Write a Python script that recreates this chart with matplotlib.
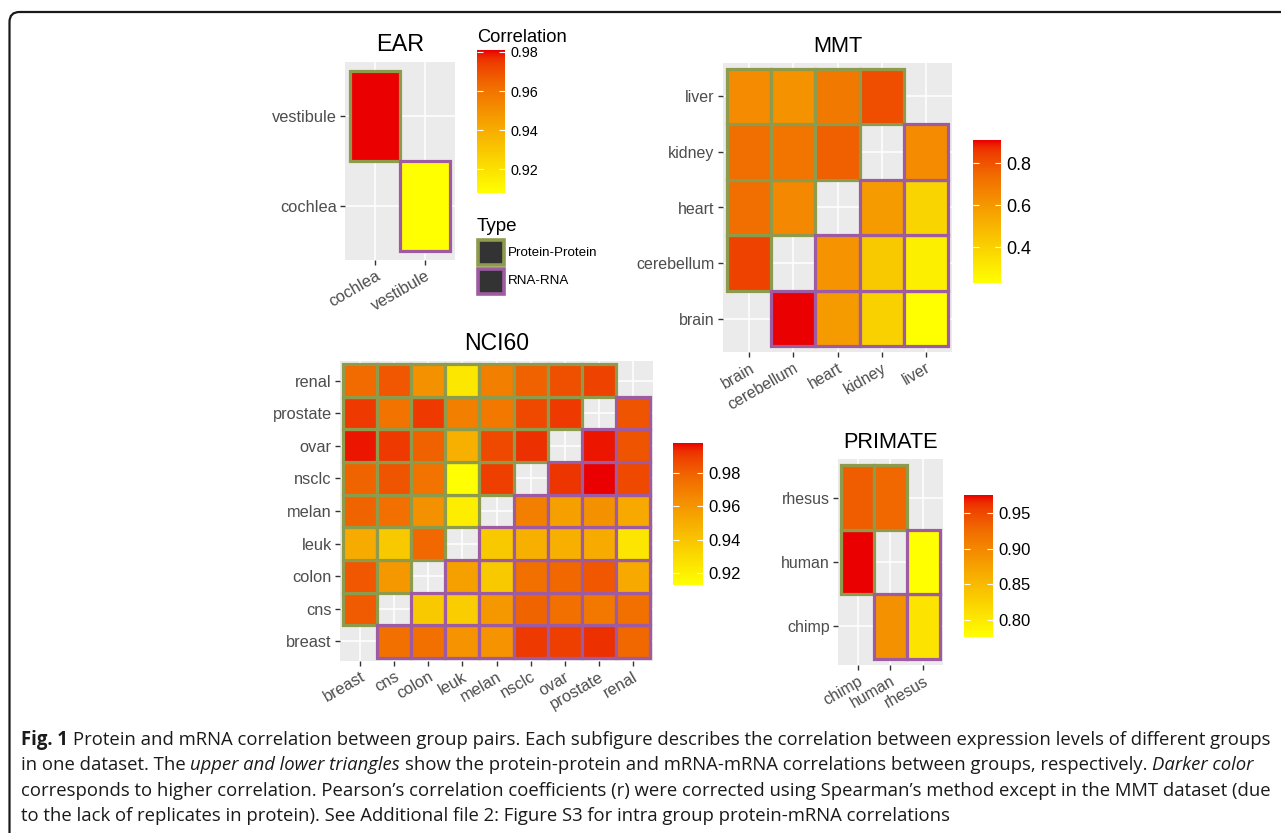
import numpy as np
import matplotlib
matplotlib.use("Agg")
import matplotlib.pyplot as plt
from matplotlib.colors import LinearSegmentedColormap, Normalize
from matplotlib.patches import Rectangle, FancyBboxPatch
from matplotlib.cm import ScalarMappable
from matplotlib.transforms import IdentityTransform

W, H = 1281, 833

# group names, in axis order (left to right / bottom to top)
ear_groups = ["cochlea", "vestibule"]
mmt_groups = ["brain", "cerebellum", "heart", "kidney", "liver"]
nci_groups = ["breast", "cns", "colon", "leuk", "melan", "nsclc", "ovar", "prostate", "renal"]
primate_groups = ["chimp", "human", "rhesus"]

# correlation matrices: rows listed top to bottom (last group first),
# columns in group order; cells above the diagonal are protein-protein,
# cells below are RNA-RNA
ear_corr = [
    [0.981, np.nan],
    [np.nan, 0.908],
]
mmt_corr = [
    [0.64, 0.62, 0.70, 0.81, np.nan],
    [0.73, 0.71, 0.77, np.nan, 0.64],
    [0.73, 0.65, np.nan, 0.59, 0.39],
    [0.84, np.nan, 0.61, 0.43, 0.29],
    [np.nan, 0.91, 0.59, 0.40, 0.23],
]
nci_corr = [
    [0.977, 0.983, 0.962, 0.924, 0.969, 0.980, 0.985, 0.989, np.nan],
    [0.991, 0.974, 0.991, 0.969, 0.972, 0.987, 0.991, np.nan, 0.984],
    [0.996, 0.991, 0.980, 0.949, 0.987, 0.993, np.nan, 0.996, 0.984],
    [0.979, 0.984, 0.974, 0.913, 0.990, np.nan, 0.992, 0.998, 0.987],
    [0.979, 0.975, 0.962, 0.921, np.nan, 0.969, 0.956, 0.962, 0.952],
    [0.951, 0.938, 0.978, np.nan, 0.938, 0.949, 0.949, 0.951, 0.925],
    [0.983, 0.959, np.nan, 0.956, 0.938, 0.975, 0.978, 0.983, 0.952],
    [0.982, np.nan, 0.938, 0.936, 0.959, 0.979, 0.975, 0.972, 0.975],
    [np.nan, 0.975, 0.975, 0.961, 0.961, 0.991, 0.990, 0.993, 0.978],
]
primate_corr = [
    [0.936, 0.928, np.nan],
    [0.975, np.nan, 0.776],
    [np.nan, 0.891, 0.805],
]

ear_ticks = [0.92, 0.94, 0.96, 0.98]
mmt_ticks = [0.4, 0.6, 0.8]
nci_ticks = [0.92, 0.94, 0.96, 0.98]
primate_ticks = [0.80, 0.85, 0.90, 0.95]

type_labels = ["Protein-Protein", "RNA-RNA"]

GREEN = "#8E9B4C"
PURPLE = "#9E5BA1"

# yellow -> red ramp (Lab-style spacing of the green channel)
cmap = LinearSegmentedColormap.from_list("yr", [
    (0.00, (255 / 255, 255 / 255, 0)),
    (0.25, (250 / 255, 209 / 255, 0)),
    (0.50, (246 / 255, 161 / 255, 0)),
    (0.75, (241 / 255, 108 / 255, 0)),
    (0.90, (238 / 255, 65 / 255, 0)),
    (0.95, (237 / 255, 44 / 255, 0)),
    (1.00, (234 / 255, 0, 0)),
])

plt.rcParams["font.family"] = ["Liberation Sans", "DejaVu Sans"]

fig = plt.figure(figsize=(W / 100, H / 100), dpi=100)


def px_box(x0, y0, x1, y1):
    return [x0 / W, 1 - y1 / H, (x1 - x0) / W, (y1 - y0) / H]


def heatmap(box, groups, rows, title, title_size, label_size):
    ax = fig.add_axes(px_box(*box))
    mat = np.array(rows, dtype=float)[::-1]
    n = len(groups)
    norm = Normalize(np.nanmin(mat), np.nanmax(mat))
    ax.set_facecolor("#EBEBEB")
    ax.set_xlim(0.4, n + 0.6)
    ax.set_ylim(0.4, n + 0.6)
    pos = np.arange(1, n + 1)
    ax.set_xticks(pos)
    ax.set_xticklabels(groups, rotation=30, ha="right", rotation_mode="anchor")
    ax.set_yticks(pos)
    ax.set_yticklabels(groups)
    ax.grid(True, color="white", lw=1.1)
    ax.set_axisbelow(True)
    for s in ax.spines.values():
        s.set_visible(False)
    ax.tick_params(length=3.5, width=1.0, color="#333333",
                   labelcolor="#4D4D4D", labelsize=label_size, pad=2.5)

    for protein in (True, False):
        for i in range(n):
            for j in range(n):
                v = mat[i, j]
                if np.isnan(v) or (i > j) != protein:
                    continue
                ax.add_patch(Rectangle((pos[j] - 0.5, pos[i] - 0.5), 1, 1,
                                       facecolor=cmap(norm(v)),
                                       edgecolor=GREEN if protein else PURPLE,
                                       lw=2.3, zorder=3))
    ax.set_title(title, fontsize=title_size, pad=8, color="black")
    return norm


def colorbar(box, norm, ticks, decimals, label_size):
    cax = fig.add_axes(px_box(*box))
    cb = fig.colorbar(ScalarMappable(norm=norm, cmap=cmap), cax=cax, ticks=ticks)
    cb.outline.set_visible(False)
    cax.yaxis.set_ticks_position("both")
    cax.tick_params(direction="in", length=4, width=0.8, color="white",
                    labelsize=label_size, labelcolor="black", pad=4,
                    labelleft=False, labelright=True)
    cax.set_yticklabels([f"{t:.{decimals}f}" for t in ticks])
    return cax


ear_norm = heatmap((345, 62, 455, 260), ear_groups, ear_corr, "EAR", 16.8, 11.8)
mmt_norm = heatmap((723, 63, 952, 352), mmt_groups, mmt_corr, "MMT", 15.7, 11.5)
nci_norm = heatmap((340, 361, 653, 661), nci_groups, nci_corr, "NCI60", 16.6, 11.8)
pri_norm = heatmap((838, 459, 943, 665), primate_groups, primate_corr, "PRIMATE", 15.7, 11.5)

colorbar((477, 50, 505, 193), ear_norm, ear_ticks, 2, 10.4)
colorbar((973, 140, 1001, 283), mmt_norm, mmt_ticks, 1, 13)
colorbar((673, 443, 703, 585), nci_norm, nci_ticks, 2, 12)
colorbar((964, 495, 993, 637), pri_norm, primate_ticks, 2, 12)

fig.text(477 / W, 1 - 42 / H, "Correlation", fontsize=13.2, ha="left", va="baseline")

# "Type" legend: two keys with the tile outline colours
fig.text(477 / W, 1 - 231 / H, "Type", fontsize=13.5, ha="left", va="baseline")
leg_ax = fig.add_axes(px_box(470, 232, 620, 300))
leg_ax.set_xlim(470, 620)
leg_ax.set_ylim(300, 232)
leg_ax.axis("off")
for k, (lab, col) in enumerate(zip(type_labels, [GREEN, PURPLE])):
    top = 239.5 + 29 * k
    leg_ax.add_patch(Rectangle((478.5, top), 25.5, 25.5, facecolor="#333333",
                               edgecolor=col, lw=2.6))
    leg_ax.text(508, top + 13, lab, fontsize=9.6, ha="left", va="center", color="black")

# rounded frame running off the right and bottom edges
fig.add_artist(FancyBboxPatch((9.5, -30), 1320, H - 12 + 30, transform=IdentityTransform(),
                              boxstyle="round,pad=0,rounding_size=10",
                              fill=False, lw=1.6, ec="#1A1A1A"))

# caption, set piece by piece to mix bold / italic runs
cap_font = ["Liberation Sans Narrow", "Open Sans", "DejaVu Sans"]
cap_lines = [
    [("Fig. 1", "bold", "normal"),
     ("Protein and mRNA correlation between group pairs. Each subfigure describes the "
      "correlation between expression levels of different groups", "normal", "normal")],
    [("in one dataset. The", "normal", "normal"),
     ("upper and lower triangles", "normal", "italic"),
     ("show the protein-protein and mRNA-mRNA correlations between groups, respectively.",
      "normal", "normal"),
     ("Darker color", "normal", "italic")],
    [("corresponds to higher correlation. Pearson\u2019s correlation coefficients (r) were "
      "corrected using Spearman\u2019s method except in the MMT dataset (due", "normal", "normal")],
    [("to the lack of replicates in protein). See Additional file 2: Figure S3 for intra "
      "group protein-mRNA correlations", "normal", "normal")],
]
cap_baselines = [745, 770, 796, 821]
cap_left = 21
cap_width = 1245

renderer = fig.canvas.get_renderer()


def text_width(s, size, weight, style):
    t = fig.text(0, 0, s, fontsize=size, family=cap_font, weight=weight, style=style)
    w = t.get_window_extent(renderer).width
    t.remove()
    return w


def space_width(size, weight, style):
    return text_width("x x", size, weight, style) - text_width("xx", size, weight, style)


def line_width(pieces, size):
    total = 0
    for k, (s, wt, st) in enumerate(pieces):
        total += text_width(s, size, wt, st)
        if k:
            total += space_width(size, wt, st)
    return total


cap_size = 13 * cap_width / line_width(cap_lines[0], 13)

for pieces, base in zip(cap_lines, cap_baselines):
    x = cap_left
    for k, (s, wt, st) in enumerate(pieces):
        if k:
            x += space_width(cap_size, wt, st)
        t = fig.text(x / W, 1 - base / H, s, fontsize=cap_size, family=cap_font,
                     weight=wt, style=st, ha="left", va="baseline", color="#1A1A1A")
        x += t.get_window_extent(renderer).width

fig.savefig("out.png", dpi=100)
